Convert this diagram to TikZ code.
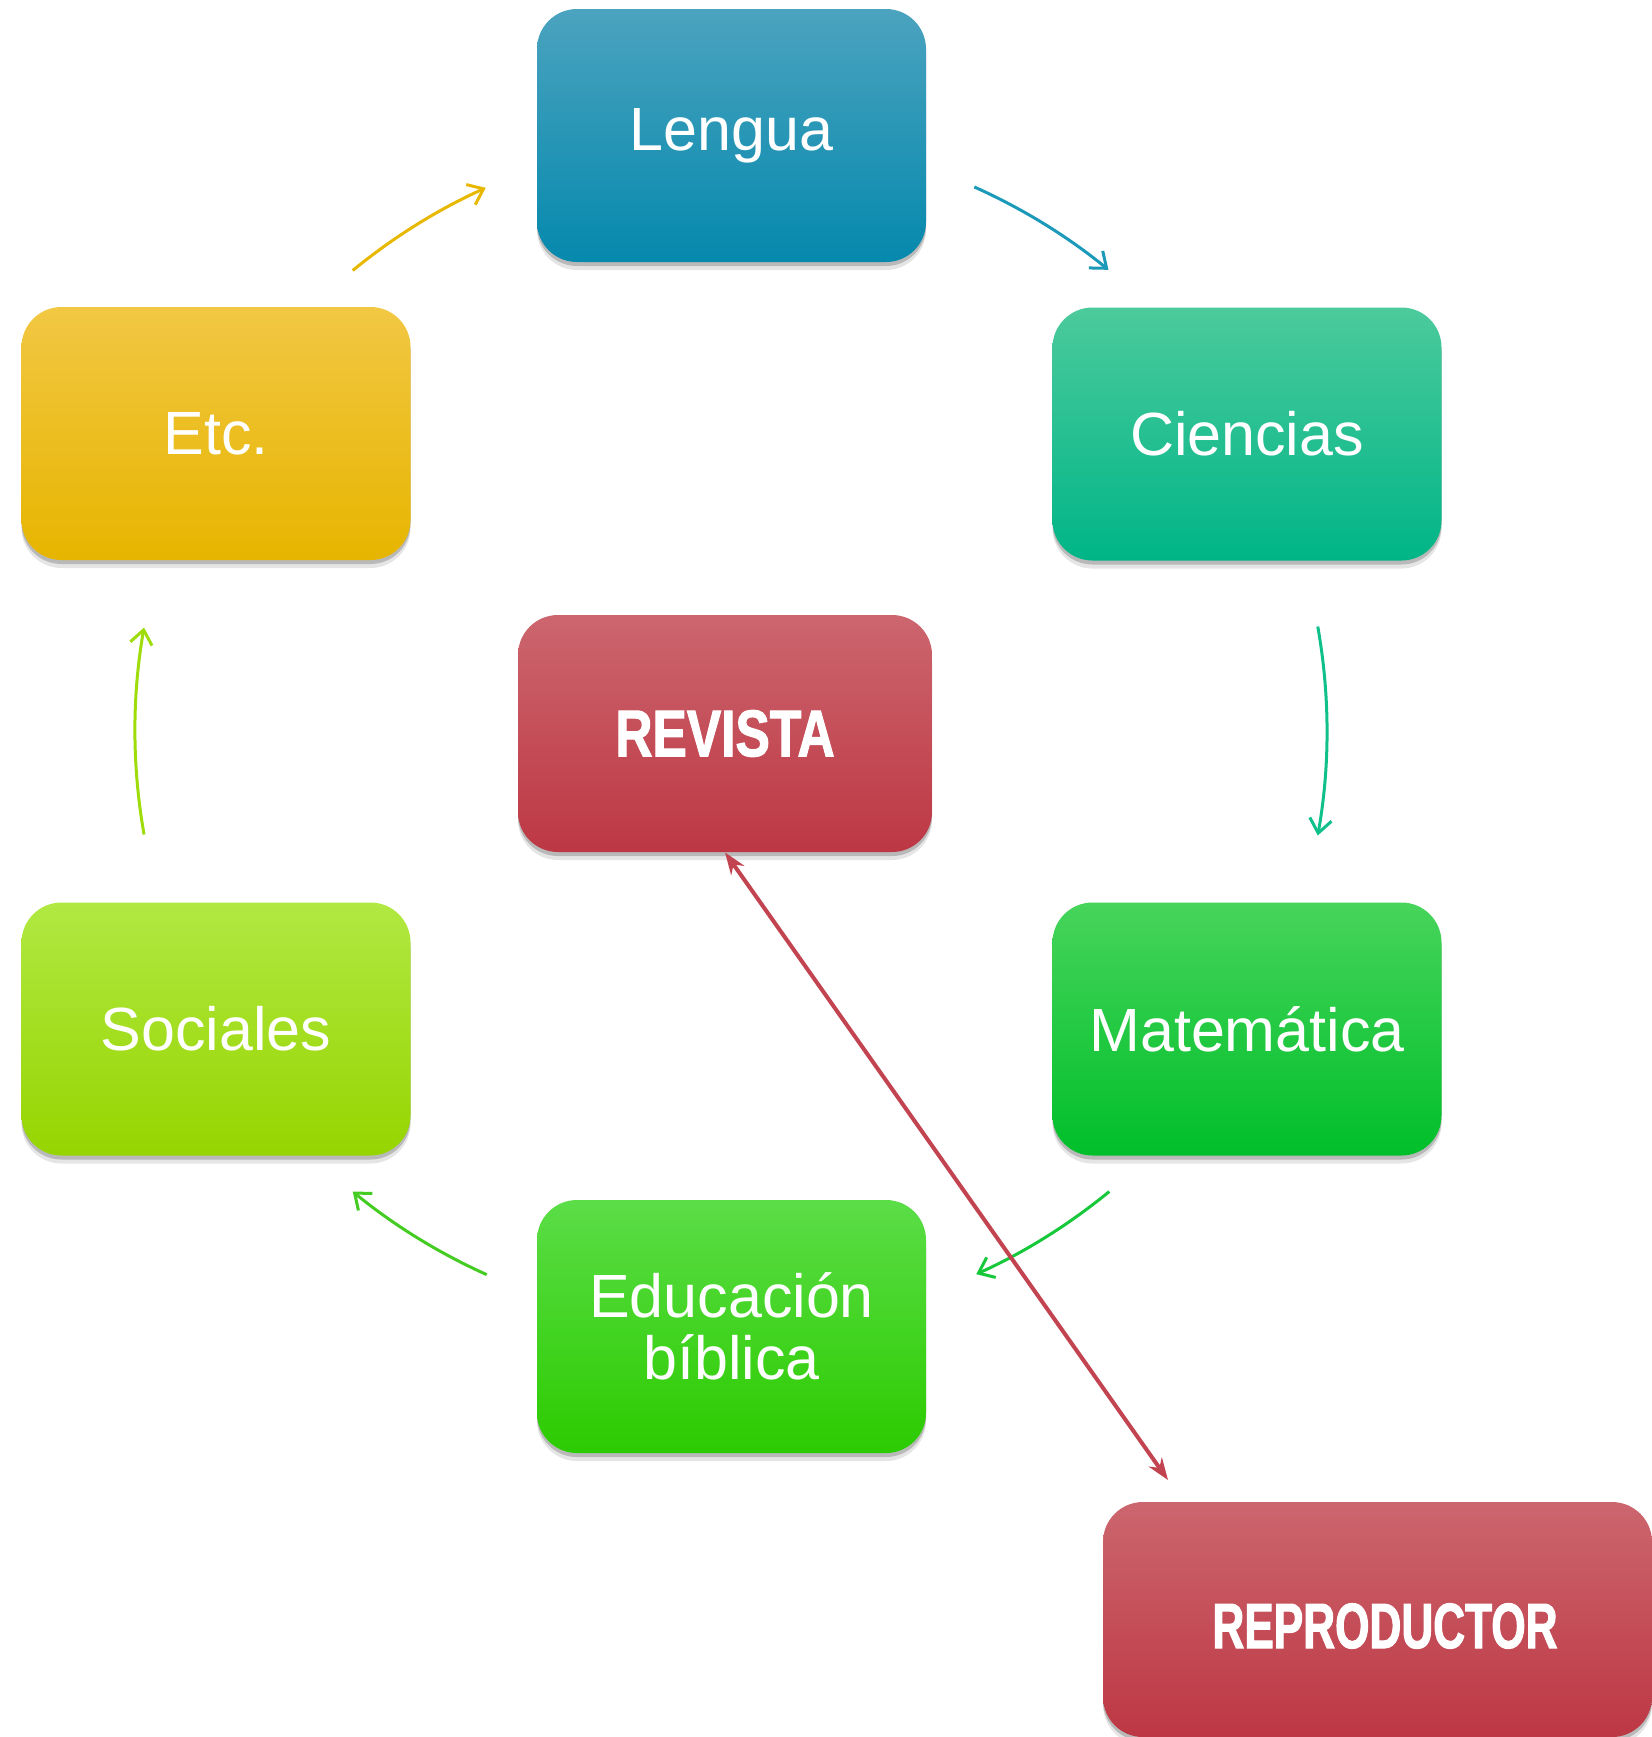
\documentclass[tikz,border=0pt]{standalone}
\usepackage{fontspec}
\setmainfont{Liberation Sans}
\newfontfamily\condA[FakeStretch=0.78,FakeBold=1.6]{Liberation Sans Bold}
\newfontfamily\condB[FakeStretch=0.69,FakeBold=1.6]{Liberation Sans Bold}
\usetikzlibrary{shadows,arrows.meta,calc}
\definecolor{lgT}{HTML}{4BA3BF}\definecolor{lgM}{HTML}{129CC0}\definecolor{lgB}{HTML}{0589AD}
\definecolor{ciT}{HTML}{4CCA9C}\definecolor{ciM}{HTML}{0BC68D}\definecolor{ciB}{HTML}{00B587}
\definecolor{maT}{HTML}{47D45B}\definecolor{maM}{HTML}{0FCC3E}\definecolor{maB}{HTML}{00BF2A}
\definecolor{edT}{HTML}{5BDD47}\definecolor{edM}{HTML}{36D91A}\definecolor{edB}{HTML}{2CCB00}
\definecolor{soT}{HTML}{B1E842}\definecolor{soM}{HTML}{A3E20F}\definecolor{soB}{HTML}{96D500}
\definecolor{etT}{HTML}{F2C743}\definecolor{etM}{HTML}{F5C500}\definecolor{etB}{HTML}{E6B500}
\definecolor{rdT}{HTML}{CC666E}\definecolor{rdM}{HTML}{C84453}\definecolor{rdB}{HTML}{BD3744}
\definecolor{arEt}{HTML}{E8B800}
\definecolor{arLg}{HTML}{1A9AB8}
\definecolor{arCi}{HTML}{10C08A}
\definecolor{arMa}{HTML}{16C83A}
\definecolor{arEd}{HTML}{44CC22}
\definecolor{arSo}{HTML}{9EDC0A}
\definecolor{redline}{HTML}{C24450}
\tikzset{
  box/.style={rectangle, rounded corners=20pt, minimum width=194.5pt, minimum height=126.5pt,
    text=white, align=center, font=\fontsize{30.5}{31}\selectfont,
    preaction={fill=black, opacity=0.10, transform canvas={yshift=-4pt}},
    drop shadow={shadow xshift=0pt, shadow yshift=-2pt, opacity=0.25, fill=black!80}},
  redbox/.style={box, top color=rdT, middle color=rdM, bottom color=rdB},
  cyc/.style={line width=1.5pt, -{Straight Barb[length=7pt, width=11pt, line width=1.5pt]}},
  link/.style={line width=2pt, redline, {Stealth[length=11pt, width=8pt]}-{Stealth[length=11pt, width=8pt]}}
}
\begin{document}
\begin{tikzpicture}[x=0.5pt, y=0.5pt]
\useasboundingbox (0,0) rectangle (1652,-1737);
\node[box, top color=lgT, middle color=lgM, bottom color=lgB] (lengua) at (731.5,-135.5) {Lengua};
\node[box, top color=ciT, middle color=ciM, bottom color=ciB] (ciencias) at (1247,-434) {Ciencias};
\node[box, top color=maT, middle color=maM, bottom color=maB] (mate) at (1247,-1029) {Matemática};
\node[box, top color=edT, middle color=edM, bottom color=edB] (edu) at (731.5,-1326.5) {Educación\\bíblica};
\node[box, top color=soT, middle color=soM, bottom color=soB] (soc) at (216,-1029) {Sociales};
\node[box, top color=etT, middle color=etM, bottom color=etB] (etc) at (216,-433.5) {Etc.};
\node[redbox, minimum width=207pt, minimum height=118.5pt] (rev) at (725,-733.5) {\condA\fontsize{33}{33}\selectfont REVISTA};
\node[redbox, minimum width=274.5pt, minimum height=117.5pt] (repbox) at (1377.5,-1619.5) {};
\node[text=white, font=\condB\fontsize{32}{32}\selectfont] (rep) at (1385,-1626) {REPRODUCTOR};
\coordinate (C) at (731,-731);
\coordinate (e1) at ($(C)+(129.4:596)$);
\coordinate (e2) at ($(C)+(65.9:596)$);
\coordinate (e3) at ($(C)+(10.1:596)$);
\coordinate (e4) at ($(C)+(-50.6:596)$);
\coordinate (e5) at ($(C)+(-114.2:596)$);
\coordinate (e6) at ($(C)+(190:596)$);
\draw[cyc, arEt] (e1) arc[start angle=129.4, end angle=114.3, radius=596];
\draw[cyc, arLg] (e2) arc[start angle=65.9, end angle=50.7, radius=596];
\draw[cyc, arCi] (e3) arc[start angle=10.1, end angle=-10.1, radius=596];
\draw[cyc, arMa] (e4) arc[start angle=-50.6, end angle=-65.7, radius=596];
\draw[cyc, arEd] (e5) arc[start angle=-114.2, end angle=-129.4, radius=596];
\draw[cyc, arSo] (e6) arc[start angle=190, end angle=170, radius=596];
\coordinate (reptip) at (1168,-1480);
\draw[link] (rev.south) -- (reptip);
\end{tikzpicture}
\end{document}
